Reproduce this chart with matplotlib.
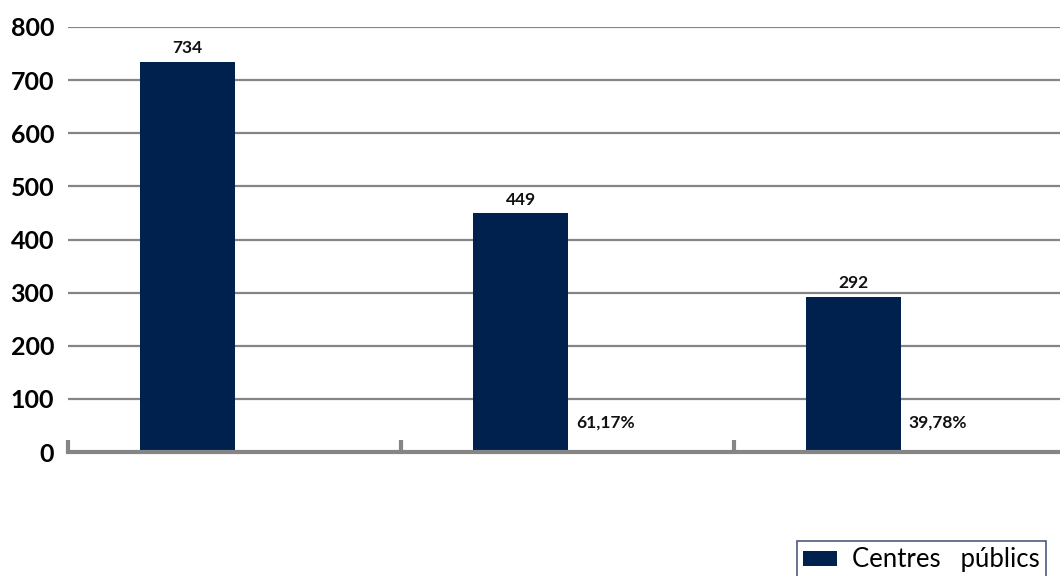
import numpy as np
import matplotlib.pyplot as plt

plt.rcParams['font.family'] = ['Lato', 'DejaVu Sans']

categories = ['A', 'B', 'C']
values = [734, 449, 292]
percents = [None, '61,17%', '39,78%']
yticks = [0, 100, 200, 300, 400, 500, 600, 700, 800]
series_name = 'Centres   públics'

navy = '#00204E'
grey = '#858585'

fig = plt.figure(figsize=(10.6, 5.76), dpi=100)
ax = fig.add_axes([68/1060, 124/576, 999/1060, 425/576])

x = np.arange(len(categories))
bw = 0.288
off = 0.141
bars = ax.bar(x - off, values, width=bw, color=navy, zorder=3, label=series_name)

for xi, v in zip(x, values):
    ax.text(xi - off, v + 11, str(v), ha='center', va='bottom',
            fontsize=12.5, fontweight='bold', color='#111111')
for xi, p in zip(x, percents):
    if p:
        ax.text(xi + 0.113, 55, p, ha='center', va='center',
                fontsize=12.5, fontweight='bold', color='#111111')

ax.set_xlim(-0.5, len(categories) - 0.5)
ax.set_ylim(0, 800)
ax.set_yticks(yticks)
ax.set_yticklabels([str(t) for t in yticks], fontsize=18, fontweight='bold')
ax.tick_params(axis='y', length=0, pad=10)
ax.set_xticks([])
ax.set_xticks(np.arange(len(categories)) - 0.5, minor=True)
ax.tick_params(axis='x', which='minor', direction='in', length=9, width=3, color=grey)

ax.yaxis.grid(True, color=grey, lw=1.6, zorder=0)
ax.set_axisbelow(True)
for s in ['top', 'right', 'left']:
    ax.spines[s].set_visible(False)
ax.spines['bottom'].set_color(grey)
ax.spines['bottom'].set_linewidth(3)
ax.spines['bottom'].set_zorder(4)

leg = fig.legend(handles=[bars], labels=[series_name], loc='upper left',
                 bbox_to_anchor=(797/1060, 1 - 541/576), fontsize=18.5,
                 frameon=True, fancybox=False, handlelength=1.3, handleheight=0.55,
                 borderpad=0.25, handletextpad=0.6, borderaxespad=0)
leg.get_frame().set_edgecolor('#1F2F5F')
leg.get_frame().set_linewidth(1.2)

plt.savefig('out.png', dpi=100)
